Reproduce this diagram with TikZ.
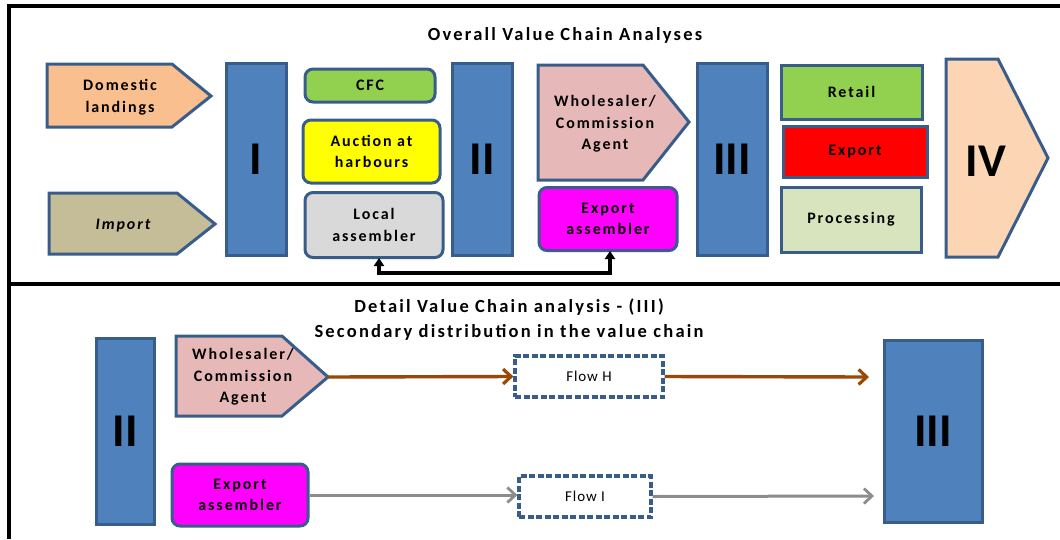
\documentclass[tikz,border=0pt]{standalone}
\usepackage{fontspec}
\usetikzlibrary{arrows.meta}
\newfontfamily\lsf[LetterSpace=12]{Carlito}
\newfontfamily\flowf[LetterSpace=6]{Carlito}
\newfontfamily\plainf{Carlito}
\definecolor{edgeblue}{HTML}{385D8A}
\definecolor{barblue}{HTML}{4F81BD}
\definecolor{peach}{HTML}{F9BF8F}
\definecolor{tan}{HTML}{C4BD97}
\definecolor{lgreen}{HTML}{92D050}
\definecolor{lgray}{HTML}{D9D9D9}
\definecolor{pinkish}{HTML}{E6B9B8}
\definecolor{palegreen}{HTML}{D7E4BD}
\definecolor{lpeach}{HTML}{FCD5B5}
\definecolor{brownline}{HTML}{984807}
\definecolor{grayline}{HTML}{8C8C8C}
\definecolor{pmagenta}{HTML}{FF00FF}
\definecolor{pred}{HTML}{FF0000}
\definecolor{pyellow}{HTML}{FFFF00}
\begin{document}
\begin{tikzpicture}[x=1pt,y=-1pt,
  txt/.style={align=center,font=\lsf\bfseries\fontsize{16}{21.5}\selectfont,inner sep=0pt},
  bar/.style={draw=edgeblue,line width=3pt,fill=barblue,inner sep=0pt,
    font=\plainf\bfseries\fontsize{47}{47}\selectfont},
  penta/.style={draw=edgeblue,line width=3pt,line join=miter},
  rbox/.style={draw=edgeblue,line width=3pt,rounded corners=8pt,inner sep=0pt,align=center,
    font=\lsf\bfseries\fontsize{16}{21.5}\selectfont},
  sbox/.style={draw=edgeblue,line width=3pt,inner sep=0pt,align=center,
    font=\lsf\bfseries\fontsize{16}{21.5}\selectfont},
  flowbox/.style={draw=edgeblue,line width=3.2pt,dash pattern=on 6pt off 2.5pt,fill=white,inner sep=0pt,
    font=\flowf\fontsize{15}{15}\selectfont},
  brownarrow/.style={draw=brownline,line width=3.4pt,-{Straight Barb[length=8pt,width=15pt,line width=3.2pt]}},
  grayarrow/.style={draw=grayline,line width=3pt,-{Straight Barb[length=8pt,width=15pt,line width=2.8pt]}},
  blackarrow/.style={draw=black,line width=3.4pt,{Triangle[length=8pt,width=10pt]}-{Triangle[length=8pt,width=10pt]}},
  title/.style={align=center,font=\lsf\bfseries\fontsize{18.5}{25}\selectfont,inner sep=0pt}
]
\useasboundingbox (0,0) rectangle (1060,539);
% frame
\draw[line width=3.4pt] (9,539) -- (9,6) -- (1060,6);
\draw[line width=3.4pt] (9,284) -- (1060,284);

% ---------- top section ----------
\node[title] (t1) at (565,35) {Overall Value Chain Analyses};

\draw[penta,fill=peach] (47,64) -- (172,64) -- (211,96) -- (172,127) -- (47,127) -- cycle;
\node[txt] (dom) at (120,97) {Domestic\\landings};

\draw[penta,fill=tan] (49,193) -- (177,193) -- (215,224) -- (177,254) -- (49,254) -- cycle;
\node[txt] (imp) at (123,226) {\itshape Import};

\node[bar,minimum width=60pt,minimum height=192pt] (b1) at (256,159) {I};

\node[rbox,fill=lgreen,minimum width=130pt,minimum height=33pt] (cfc) at (370,85.5) {CFC};
\node[rbox,fill=pyellow,minimum width=137pt,minimum height=63pt] (auc) at (371.5,151.5) {Auction at\\harbours};
\node[rbox,fill=lgray,minimum width=138pt,minimum height=65pt] (loc) at (374,225) {Local\\assembler};

\node[bar,minimum width=60pt,minimum height=192pt] (b2) at (482,159) {II};

\draw[penta,fill=pinkish] (538,65) -- (643,65) -- (689,122) -- (643,180) -- (538,180) -- cycle;
\node[txt] (whs) at (605,124) {Wholesaler/\\Commission\\Agent};

\node[rbox,fill=pmagenta,minimum width=138pt,minimum height=63pt] (exa) at (608,219) {Export\\assembler};

\node[bar,minimum width=70pt,minimum height=192pt] (b3) at (732,159) {III};

\node[sbox,fill=lgreen,minimum width=141pt,minimum height=54pt] (ret) at (851.5,92) {Retail};
\node[sbox,fill=pred,minimum width=144pt,minimum height=51pt] (exp) at (855,151.5) {Export};
\node[sbox,fill=palegreen,minimum width=140pt,minimum height=65pt] (pro) at (851,219.5) {Processing};

\draw[penta,fill=lpeach] (946,59) -- (998,59) -- (1048,158) -- (998,257) -- (946,257) -- cycle;
\node[font=\plainf\bfseries\fontsize{47}{47}\selectfont,inner sep=0pt] (iv) at (986,161) {IV};

\coordinate (locfoot) at (379,258);
\coordinate (exafoot) at (610,251);
\draw[blackarrow] (locfoot) -- (379,273) -| (exafoot);

% ---------- bottom section ----------
\node[title] (t2) at (509,320) {Detail Value Chain analysis - (III)\\Secondary distribution in the value chain};

\node[bar,minimum width=58pt,minimum height=186pt] (bb2) at (125,431) {II};

\draw[penta,fill=pinkish] (176,336) -- (282,336) -- (328,377) -- (282,416) -- (176,416) -- cycle;
\coordinate (whtip) at (328,377);
\node[txt] (wh2) at (243,377) {Wholesaler/\\Commission\\Agent};

\node[rbox,fill=pmagenta,minimum width=136pt,minimum height=62pt] (ex2) at (240,495) {Export\\assembler};

\node[flowbox,minimum width=148pt,minimum height=41pt] (fh) at (589,376.5) {Flow H};
\node[flowbox,minimum width=132pt,minimum height=41pt] (fi) at (585,496.5) {Flow I};

\node[bar,minimum width=98pt,minimum height=182pt] (bb3) at (933,431) {III};

\coordinate (endH) at (869,377);
\coordinate (endI) at (874,496);
\draw[brownarrow] (whtip) -- (fh.west);
\draw[brownarrow] (fh.east) -- (endH);
\draw[grayarrow] (ex2.east) -- (ex2.east -| fi.west);
\draw[grayarrow] (fi.east) -- (endI);
\end{tikzpicture}
\end{document}
